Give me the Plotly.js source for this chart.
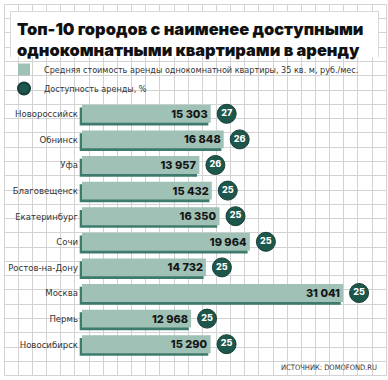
<!DOCTYPE html>
<html><head><meta charset="utf-8">
<script src="https://cdn.plot.ly/plotly-3.0.1.min.js"></script>
<style>
html,body{margin:0;padding:0;background:#fff;}
#wrap{position:relative;width:388px;height:380px;overflow:hidden;}
#grid{position:absolute;left:0;top:0;}
#titlebox{position:absolute;left:10px;top:11px;width:367px;height:45px;background:#fff;border:1px solid #d8d8d8;border-bottom:none;}
#chart{position:absolute;left:0;top:0;width:388px;height:380px;}
</style></head><body>
<div id="wrap"><svg id="grid" width="388" height="380"></svg><div id="titlebox"></div><div id="chart"></div></div>
<script>
// ---- data ----
const cities = ['Новороссийск','Обнинск','Уфа','Благовещенск','Екатеринбург','Сочи','Ростов-на-Дону','Москва','Пермь','Новосибирск'];
const rentCost = [15303,16848,13957,15432,16350,19964,14732,31041,12968,15290];
const affordability = [27,26,26,25,25,25,25,25,25,25];
const seriesNames = ['Средняя стоимость аренды однокомнатной квартиры, 35 кв. м, руб./мес.','Доступность аренды, %'];
const titleText = 'Топ-10 городов с наименее доступными<br>однокомнатными квартирами в аренду';
const sourceText = 'ИСТОЧНИК: DOMOFOND.RU';

// ---- background grid ----
(function(){
  const svg = document.getElementById('grid');
  const ns = 'http://www.w3.org/2000/svg';
  const x0 = 3.7, y0 = 3.9, dx = 14.15, dy = 14.28, nx = 27, ny = 26;
  const x1 = x0 + nx*dx, y1 = y0 + ny*dy;
  function line(a,b,c,d){
    const l = document.createElementNS(ns,'line');
    l.setAttribute('x1',a);l.setAttribute('y1',b);l.setAttribute('x2',c);l.setAttribute('y2',d);
    l.setAttribute('stroke','#d3d3d3');l.setAttribute('stroke-width','1');
    svg.appendChild(l);
  }
  for(let k=0;k<=nx;k++){const x=Math.round(x0+k*dx)+0.5;line(x,Math.round(y0)+0.5,x,Math.round(y1)+0.5);}
  for(let k=0;k<=ny;k++){const y=Math.round(y0+k*dy)+0.5;line(Math.round(x0)+0.5,y,Math.round(x1)+0.5,y);}
})();

const narrow = '"Liberation Sans Narrow","DejaVu Sans Condensed","Roboto Condensed",sans-serif';
const heavy = 'Inter, "DejaVu Sans", sans-serif';
const pxPerUnit = 300/35672;
const shadowDx = 2.3/pxPerUnit;
const circleGap = 16/pxPerUnit;

const shadow = {
  type:'bar', orientation:'h', y:cities, x:rentCost, base:-shadowDx,
  width:0.70, offset:-0.245, marker:{color:'#3f7b6c'}, showlegend:false, hoverinfo:'skip'
};
const bars = {
  type:'bar', orientation:'h', y:cities, x:rentCost, name:seriesNames[0],
  width:0.70, offset:-0.35, marker:{color:'#9fc1b6'},
  texttemplate:'%{x:,d}', textposition:'inside', insidetextanchor:'end', constraintext:'none',
  textfont:{family:heavy, size:11, color:'#161616', weight:800}
};
const circles = {
  type:'scatter', mode:'markers', y:cities, x:rentCost.map(v=>v+circleGap), name:seriesNames[1],
  marker:{size:19, color:'#1d564b', line:{color:'#153f37', width:1}}
};
const pctText = {
  type:'scatter', mode:'text', y:cities, x:rentCost.map(v=>v+circleGap), text:affordability,
  textposition:'middle center', textfont:{family:heavy, size:9, color:'#ffffff', weight:800},
  showlegend:false, hoverinfo:'skip'
};

const layout = {
  width:388, height:380,
  margin:{l:79, r:9, t:101, b:23, autoexpand:false},
  paper_bgcolor:'rgba(0,0,0,0)', plot_bgcolor:'rgba(0,0,0,0)',
  barmode:'overlay', separators:', ',
  title:{text:titleText, font:{family:heavy, size:16.4, weight:900, color:'#111'},
    xref:'container', yref:'container', x:17/388, xanchor:'left', y:1-35/380, yanchor:'bottom'},
  xaxis:{range:[-357,35315], visible:false, fixedrange:true},
  yaxis:{type:'category', range:[9.5,-0.5], showgrid:false, zeroline:false, showline:false, ticks:'',
    tickfont:{family:narrow, size:9.5, color:'#333'}, fixedrange:true},
  legend:{xref:'container', yref:'container', x:4/388, xanchor:'left', y:1-55/380, yanchor:'top',
    font:{family:narrow, size:9, color:'#333'}, bgcolor:'rgba(0,0,0,0)', itemsizing:'constant', traceorder:'normal'},
  annotations:[{text:sourceText, xref:'paper', yref:'paper', x:1, xanchor:'right', y:-0.04, yanchor:'middle',
    showarrow:false, font:{family:narrow, size:7.5, color:'#333'}}],
  showlegend:true
};
Plotly.newPlot('chart',[shadow,bars,circles,pctText],layout,{displayModeBar:false,staticPlot:true});
</script></body></html>
